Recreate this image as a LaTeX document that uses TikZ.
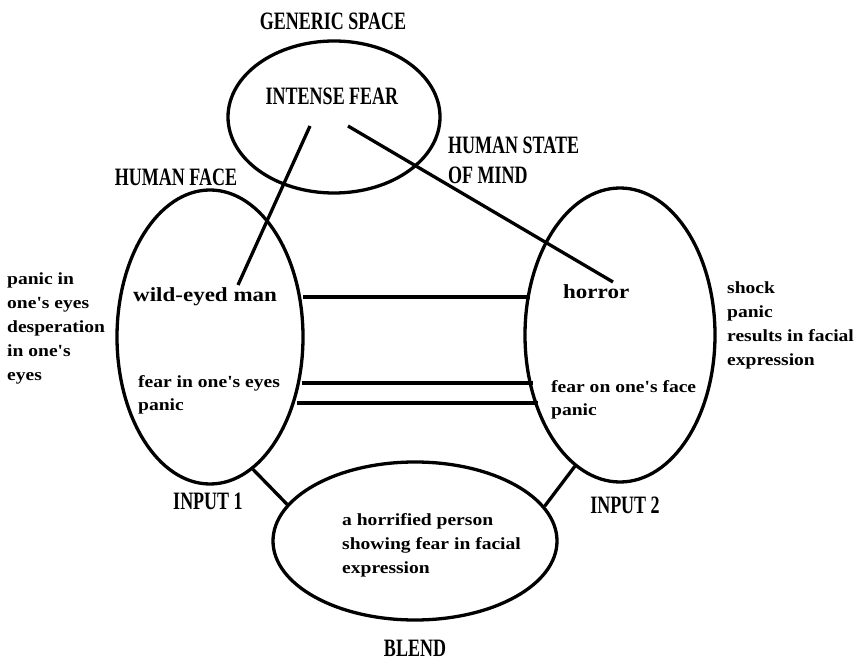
\documentclass[tikz,border=0pt]{standalone}
\usepackage{fontspec}
\usetikzlibrary{shapes.geometric}
\setmainfont{Liberation Serif}
\newfontfamily\capsfont[FakeStretch=0.72]{Liberation Serif}
\newfontfamily\notefont[FakeStretch=1.15]{Liberation Serif}

\tikzset{
    space/.style={draw, ellipse, line width=3.3pt, inner sep=0pt},
    title/.style={font=\capsfont\bfseries\fontsize{25}{30}\selectfont, inner sep=0pt},
    note/.style={font=\notefont\bfseries\fontsize{17}{24}\selectfont, align=left, inner sep=0pt, anchor=north west},
    item/.style={font=\notefont\bfseries\fontsize{20}{24}\selectfont, inner sep=0pt, anchor=base west},
    link/.style={line width=3.3pt}
}

\begin{document}
\begin{tikzpicture}[x=1pt, y=-1pt]
    \useasboundingbox (0,0) rectangle (868,660);

    % the four mental spaces
    \node[space, minimum width=212pt, minimum height=152pt] (generic) at (334,117) {};
    \node[space, minimum width=186pt, minimum height=294pt] (face) at (210,337) {};
    \node[space, minimum width=190pt, minimum height=294pt] (mind) at (620,335) {};
    \node[space, minimum width=284pt, minimum height=158pt] (blend) at (415,541) {};

    % space names
    \node[title] (genericname) at (333,21) {GENERIC SPACE};
    \node[title] (fear) at (332,96) {INTENSE FEAR};
    \node[title] (facename) at (176,177) {HUMAN FACE};
    \node[title, align=left, anchor=north west] (mindname) at (448,137) {HUMAN STATE\\OF MIND};
    \node[title] (input1) at (208,501) {INPUT 1};
    \node[title] (input2) at (625,505) {INPUT 2};
    \node[title] (blendname) at (415,648) {BLEND};

    % elements inside and beside the inputs
    \node[item] (wild) at (133,302) {wild-eyed man};
    \node[item] (horror) at (563,299) {horror};
    \node[note, font=\notefont\bfseries\fontsize{17}{23}\selectfont] (eyes) at (138,375) {fear in one's eyes\\panic};
    \node[note, font=\notefont\bfseries\fontsize{17}{23}\selectfont] (onface) at (551,380) {fear on one's face\\panic};
    \node[note] (leftnote) at (7,273) {panic in\\one's eyes\\desperation\\in one's\\eyes};
    \node[note] (rightnote) at (727,282) {shock\\panic\\results in facial\\expression};
    \node[note] (person) at (342,513) {a horrified person\\showing fear in facial\\expression};

    % ends of the generic links
    \coordinate (gleft)  at (310,126);
    \coordinate (gright) at (348,126);
    \coordinate (wildend)   at (238,285);
    \coordinate (horrorend) at (613,282);
    \draw[link] (gleft) -- (wildend);
    \draw[link] (gright) -- (horrorend);

    % cross-space mappings
    \coordinate (m1l) at (303,297);
    \coordinate (m1r) at (530,297);
    \coordinate (m2l) at (302,383);
    \coordinate (m2r) at (533,383);
    \coordinate (m3l) at (297,403);
    \coordinate (m3r) at (538,403);
    \draw[link] (m1l) -- (m1r);
    \draw[link] (m2l) -- (m2r);
    \draw[link] (m3l) -- (m3r);

    % inputs to blend
    \draw[link] (face.-72) -- (blend.164);
    \draw[link] (mind.-109) -- (blend.15);
\end{tikzpicture}
\end{document}
